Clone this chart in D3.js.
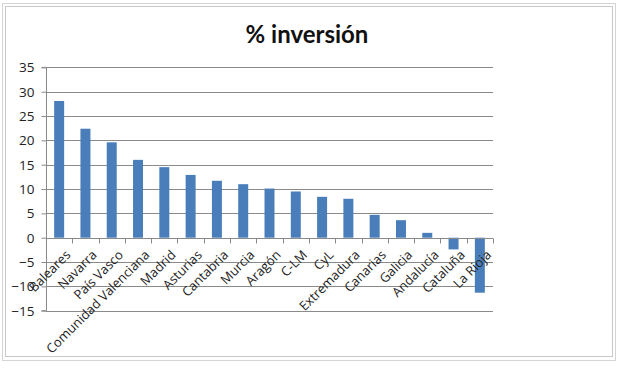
<!DOCTYPE html>
<html><head><meta charset="utf-8">
<script src="https://cdn.jsdelivr.net/npm/d3@7"></script>
<style>body{margin:0;background:#fff}svg{display:block}</style>
</head><body><svg id="c" width="620" height="368"></svg>
<script>
const categories = ["Baleares","Navarra","País Vasco","Comunidad Valenciana","Madrid","Asturias","Cantabria","Murcia","Aragón","C-LM","CyL","Extremadura","Canarias","Galicia","Andalucía","Cataluña","La Rioja"];
const values = [28.1,22.4,19.6,16.0,14.5,12.9,11.7,11.0,10.1,9.5,8.4,8.0,4.7,3.6,1.0,-2.4,-11.3];
const yTicks = [-15,-10,-5,0,5,10,15,20,25,30,35];
const title = "% inversión";

const svg = d3.select("#c");
// frame
svg.append("rect").attr("x",2.5).attr("y",3.5).attr("width",613).attr("height",357).attr("fill","none").attr("stroke","#d4d4d4");
svg.append("rect").attr("x",5.5).attr("y",6.5).attr("width",607).attr("height",350).attr("fill","none").attr("stroke","#c8c8c8");

const x = d3.scaleBand().domain(categories).range([46,493]).paddingInner(0.62).paddingOuter(0.31);
const y = d3.scaleLinear().domain([-15,35]).range([310.7,67.4]);

// gridlines
svg.append("g").selectAll("line").data(yTicks).join("line")
  .attr("x1",46).attr("x2",493)
  .attr("y1",d=>Math.round(y(d))+0.5).attr("y2",d=>Math.round(y(d))+0.5)
  .attr("stroke","#8a8a8a").attr("stroke-width",1);

// y axis
const ya = d3.axisLeft(y).tickValues(yTicks).tickSize(5).tickPadding(7);
const gy = svg.append("g").attr("transform","translate(46.5,0)").call(ya);
gy.select(".domain").attr("stroke","#8a8a8a").attr("d",`M-5,${y(35)}H0V${y(-15)}H-5`);
gy.selectAll(".tick line").attr("stroke","#8a8a8a");
gy.selectAll("text").attr("font-family","'Open Sans', sans-serif").attr("font-size",13.5).attr("fill","#222");

// bars
svg.append("g").selectAll("rect").data(values).join("rect")
  .attr("x",(d,i)=>x(categories[i]))
  .attr("width",x.bandwidth())
  .attr("y",d=>y(Math.max(0,d)))
  .attr("height",d=>Math.abs(y(d)-y(0)))
  .attr("fill","#4a7ebb");

// x axis at zero
const xa = d3.axisBottom(x).tickSize(0).tickFormat(d=>d);
const gx = svg.append("g").attr("transform",`translate(0,${Math.round(y(0))+0.5})`).call(xa);
gx.select(".domain").attr("stroke","#8a8a8a").attr("d","M46,0H493");
// tick marks at band boundaries
const bounds = d3.range(categories.length+1).map(i=>46+i*(447/categories.length));
gx.selectAll("line.b").data(bounds).join("line").attr("class","b")
  .attr("x1",d=>Math.round(d)+0.5).attr("x2",d=>Math.round(d)+0.5).attr("y1",0).attr("y2",5).attr("stroke","#8a8a8a");
gx.selectAll(".tick text")
  .attr("font-family","'Open Sans', sans-serif").attr("font-size",13).attr("fill","#222")
  .attr("text-anchor","end").attr("dy","0.35em")
  .attr("transform","translate(9,14) rotate(-45)").attr("x",0).attr("y",0);

// title
svg.append("text").attr("x",307).attr("y",43).attr("text-anchor","middle")
  .attr("font-family","Lato, 'Open Sans', sans-serif").attr("font-weight","bold").attr("font-size",24)
  .attr("fill","#111").text(title);
</script></body></html>
